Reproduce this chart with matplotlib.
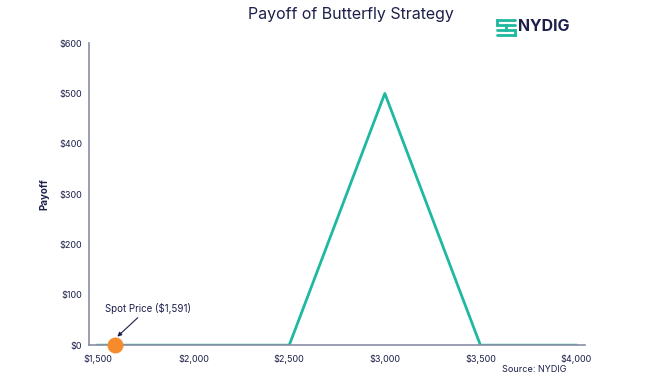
import matplotlib.pyplot as plt
from matplotlib.lines import Line2D

# payoff of the butterfly at expiry
price = [1500, 2500, 3000, 3500, 4000]
payoff = [0, 0, 500, 0, 0]
spot = 1591
xticks = [1500, 2000, 2500, 3000, 3500, 4000]
yticks = [0, 100, 200, 300, 400, 500, 600]

navy = '#1c1f4a'
teal = '#1fb8a0'
orange = '#f68b2c'

plt.rcParams['font.family'] = ['Inter', 'DejaVu Sans']

fig = plt.figure(figsize=(6.5, 3.81), dpi=100)
ax = fig.add_axes([0.137, 0.094, 0.763, 0.793])

ax.plot(price, payoff, color=teal, lw=2, zorder=2)
ax.scatter([spot], [0], s=110, color=orange, zorder=3, clip_on=False)
ax.annotate('Spot Price ($1,591)', xy=(spot + 10, 17), xytext=(1535, 66),
            fontsize=7, color=navy,
            arrowprops=dict(arrowstyle='-|>', color=navy, lw=0.8, mutation_scale=6,
                            shrinkA=1, shrinkB=0))

ax.set_xlim(1453, 4047)
ax.set_ylim(0, 600)
ax.set_xticks(xticks)
ax.set_xticklabels([f'${v:,}' for v in xticks])
ax.set_yticks(yticks)
ax.set_yticklabels([f'${v}' for v in yticks])
ax.tick_params(length=0, labelsize=6.5, labelcolor=navy)
ax.tick_params(axis='x', pad=7)
ax.tick_params(axis='y', pad=5)
for s in ['top', 'right']:
    ax.spines[s].set_visible(False)
for s in ['left', 'bottom']:
    ax.spines[s].set_color('#8a8ea3')
    ax.spines[s].set_linewidth(1.2)
ax.set_ylabel('Payoff', fontsize=7, color=navy, fontweight='bold')
ax.yaxis.set_label_coords(-0.081, 0.5)

fig.text(0.54, 0.962, 'Payoff of Butterfly Strategy', ha='center', va='center',
         fontsize=11.5, color=navy)
fig.text(0.797, 0.931, 'NYDIG', ha='left', va='center', fontsize=11.5,
         fontweight='bold', color=navy)
# rough logo mark
x0, x1 = 0.764, 0.792
for yy in [0.948, 0.935, 0.922, 0.909]:
    fig.add_artist(Line2D([x0, x1], [yy, yy], color=teal, lw=2, solid_capstyle='round'))
fig.add_artist(Line2D([x0, x0], [0.948, 0.935], color=teal, lw=2))
fig.add_artist(Line2D([x1, x1], [0.922, 0.909], color=teal, lw=2))
fig.add_artist(Line2D([0.778, 0.778], [0.935, 0.922], color=teal, lw=2))

fig.text(0.871, 0.029, 'Source: NYDIG', ha='right', va='center', fontsize=6.5, color=navy)

fig.savefig('out.png', dpi=100, facecolor='white')
